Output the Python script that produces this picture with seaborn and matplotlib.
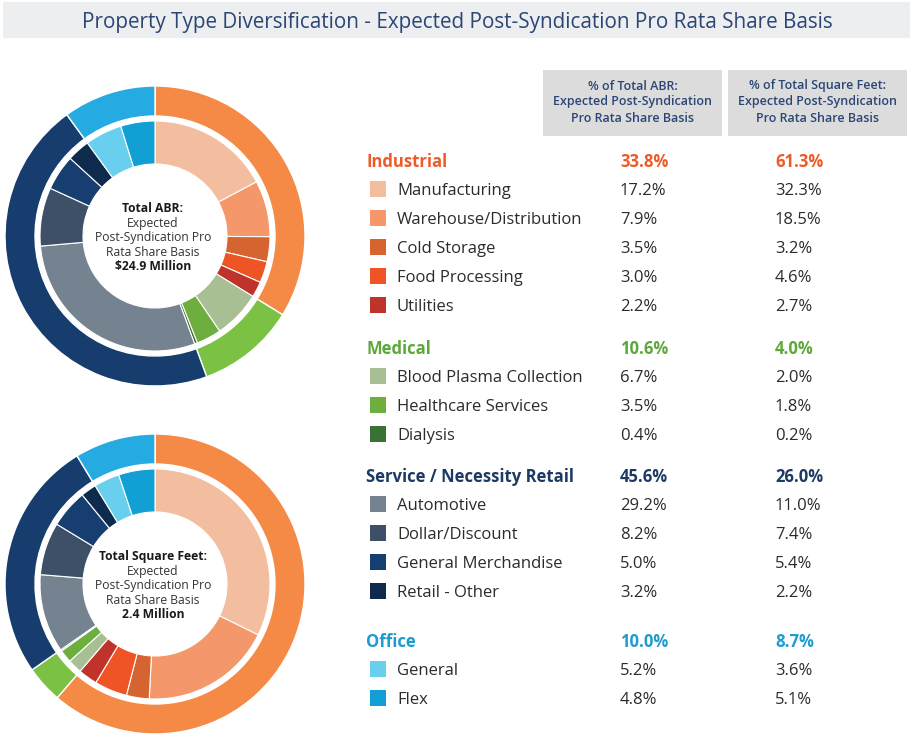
import numpy as np
import pandas as pd
import seaborn as sns
import matplotlib
matplotlib.use("Agg")
import matplotlib.pyplot as plt
from matplotlib.patches import Rectangle

sns.set_theme(style="white")
plt.rcParams['font.family'] = ['Open Sans', 'DejaVu Sans']

# ---------------- data ----------------
title = "Property Type Diversification - Expected Post-Syndication Pro Rata Share Basis"

groups = ["Industrial", "Medical", "Service / Necessity Retail", "Office"]
group_abr = [33.8, 10.6, 45.6, 10.0]
group_sf = [61.3, 4.0, 26.0, 8.7]
group_colors = ["#F58A46", "#7BC144", "#163D6E", "#25AAE1"]
group_text_colors = ["#EE5A28", "#5DA83A", "#1C3A64", "#1E9BCF"]

sub_names = ["Manufacturing", "Warehouse/Distribution", "Cold Storage", "Food Processing", "Utilities",
             "Blood Plasma Collection", "Healthcare Services", "Dialysis",
             "Automotive", "Dollar/Discount", "General Merchandise", "Retail - Other",
             "General", "Flex"]
sub_group = [0, 0, 0, 0, 0, 1, 1, 1, 2, 2, 2, 2, 3, 3]
sub_abr = [17.2, 7.9, 3.5, 3.0, 2.2, 6.7, 3.5, 0.4, 29.2, 8.2, 5.0, 3.2, 5.2, 4.8]
sub_sf = [32.3, 18.5, 3.2, 4.6, 2.7, 2.0, 1.8, 0.2, 11.0, 7.4, 5.4, 2.2, 3.6, 5.1]
sub_colors = ["#F3BEA0", "#F4976A", "#D66431", "#EE5424", "#C0332A",
              "#A8BF94", "#6DAE3E", "#3A7236",
              "#758391", "#3D5067", "#163E70", "#0E2B4D",
              "#68CFEE", "#129FD4"]

header_abr = "% of Total ABR:\nExpected Post-Syndication\nPro Rata Share Basis"
header_sf = "% of Total Square Feet:\nExpected Post-Syndication\nPro Rata Share Basis"

center_abr = ["Total ABR:", "Expected", "Post-Syndication Pro", "Rata Share Basis", "$24.9 Million"]
center_sf = ["Total Square Feet:", "Expected", "Post-Syndication Pro", "Rata Share Basis", "2.4 Million"]

df = pd.DataFrame({"name": sub_names, "group": sub_group, "abr": sub_abr, "sf": sub_sf, "color": sub_colors})

# ---------------- layout ----------------
W, H = 914, 738
fig = plt.figure(figsize=(W / 100, H / 100), dpi=100)
ax = fig.add_axes([0, 0, 1, 1])


def Y(y):
    return H - y


NAVY = "#2B4675"
TXT = "#2B2B2B"

# title banner
ax.add_patch(Rectangle((3, Y(38)), 907, 36, color="#EDEEF0", lw=0, zorder=0))
ax.text(457, Y(20), title, ha="center", va="center_baseline", fontsize=14.9, color=NAVY)

# donuts
R_OUT, W_OUT = 150, 30
R_IN, W_IN = 115, 43


def donut(cy, gvals, svals, lines):
    c = (155, Y(cy))
    ax.pie(gvals, radius=R_OUT, center=c, startangle=90, counterclock=False,
           colors=group_colors, wedgeprops=dict(width=W_OUT, edgecolor="white", linewidth=1.0))
    ax.pie(svals, radius=R_IN, center=c, startangle=90, counterclock=False,
           colors=list(df["color"]), wedgeprops=dict(width=W_IN, edgecolor="white", linewidth=0.8))
    y0 = cy - 29
    for i, ln in enumerate(lines):
        bold = i in (0, len(lines) - 1)
        ax.text(153, Y(y0 + i * 14.5), ln, ha="center", va="center_baseline", fontsize=8.7,
                fontweight="bold" if bold else "normal", color="#1A1A1A" if bold else "#333333")


donut(236, group_abr, list(df["abr"]), center_abr)
donut(584, group_sf, list(df["sf"]), center_sf)

# headers
for x0, txt in [(543, header_abr), (728, header_sf)]:
    ax.add_patch(Rectangle((x0, Y(136)), 179, 66, color="#DCDCDC", lw=0, zorder=0))
    ax.text(x0 + 89.5, Y(102), txt, ha="center", va="center", fontsize=9,
            fontweight="semibold", color=NAVY, linespacing=1.3)

# table rows
group_start = [160, 347, 475, 640]
STEP = 29
X_CAT, X_SQ, X_SUB, X_C1, X_C2 = 366, 370, 397, 620, 775
FS = 12
for g, gname in enumerate(groups):
    y = group_start[g]
    col = group_text_colors[g]
    for x, s in [(X_CAT, gname), (X_C1, f"{group_abr[g]:.1f}%"), (X_C2, f"{group_sf[g]:.1f}%")]:
        ax.text(x, Y(y), s, ha="left", va="center_baseline", fontsize=FS, fontweight="bold", color=col)
    sub = df[df["group"] == g].reset_index(drop=True)
    for k, row in sub.iterrows():
        yy = y + (k + 1) * STEP
        ax.add_patch(Rectangle((X_SQ, Y(yy) - 8), 16, 16, color=row["color"], lw=0))
        for x, s in [(X_SUB, row["name"]), (X_C1, f"{row['abr']:.1f}%"), (X_C2, f"{row['sf']:.1f}%")]:
            ax.text(x, Y(yy), s, ha="left", va="center_baseline", fontsize=FS, color=TXT)

ax.set_xlim(0, W)
ax.set_ylim(0, H)
ax.set_aspect("equal")
ax.axis("off")
fig.savefig("out.png", dpi=100, facecolor="white")
